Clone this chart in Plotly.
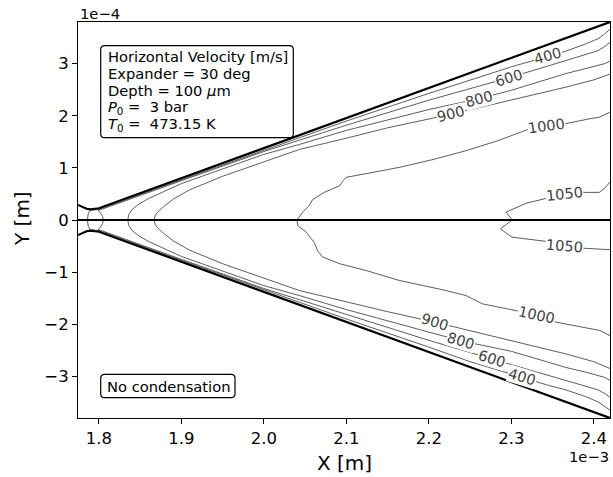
import plotly.graph_objects as go

# Units: x in 1e-3 m, y in 1e-4 m
X_RANGE = [1.7746, 2.4195]
Y_RANGE = [-3.8, 3.8]
X_TICKS = [1.8, 1.9, 2.0, 2.1, 2.2, 2.3, 2.4]
Y_TICKS = [-3, -2, -1, 0, 1, 2, 3]

# Expander wall (throat rounding, then straight 30 deg wall) and symmetry axis
WALL_X = [1.7746, 1.780, 1.785, 1.790, 1.795, 1.800, 2.4195]
WALL_UP_Y = [0.29, 0.245, 0.215, 0.205, 0.208, 0.225, 3.80]
WALL_LO_Y = [-0.29, -0.245, -0.215, -0.205, -0.208, -0.225, -3.80]
AXIS_X = [1.7746, 2.4195]
AXIS_Y = [0.0, 0.0]

# Horizontal velocity iso-lines [m/s]
C400_UP_X = [1.786, 1.787, 1.789, 1.800, 1.850, 1.900, 2.000, 2.043, 2.100, 2.200, 2.250, 2.300, 2.344, 2.366, 2.390, 2.405, 2.413, 2.4195]
C400_UP_Y = [0.00, 0.12, 0.185, 0.205, 0.490, 0.775, 1.345, 1.590, 1.900, 2.430, 2.690, 2.940, 3.140, 3.240, 3.380, 3.480, 3.570, 3.660]
C400_LO_X = [1.786, 1.787, 1.789, 1.800, 1.850, 1.900, 2.000, 2.043, 2.100, 2.200, 2.250, 2.313, 2.344, 2.366, 2.390, 2.405, 2.413, 2.4195]
C400_LO_Y = [0.00, -0.12, -0.185, -0.205, -0.490, -0.775, -1.345, -1.590, -1.900, -2.440, -2.720, -3.020, -3.170, -3.260, -3.390, -3.490, -3.570, -3.650]

C600_UP_X = [1.805, 1.8045, 1.802, 1.7995, 1.799, 1.802, 1.850, 1.900, 2.000, 2.043, 2.100, 2.200, 2.297, 2.366, 2.390, 2.405, 2.413, 2.4195]
C600_UP_Y = [0.00, 0.07, 0.13, 0.17, 0.19, 0.198, 0.475, 0.755, 1.315, 1.530, 1.820, 2.300, 2.730, 3.060, 3.170, 3.250, 3.330, 3.410]
C600_LO_X = [1.805, 1.8045, 1.802, 1.7995, 1.799, 1.802, 1.850, 1.900, 2.000, 2.043, 2.100, 2.200, 2.277, 2.366, 2.390, 2.405, 2.413, 2.4195]
C600_LO_Y = [0.00, -0.07, -0.13, -0.17, -0.19, -0.198, -0.475, -0.755, -1.315, -1.530, -1.820, -2.310, -2.670, -3.080, -3.180, -3.260, -3.330, -3.400]

C800_UP_X = [1.835, 1.836, 1.840, 1.849, 1.860, 1.900, 2.000, 2.043, 2.100, 2.200, 2.261, 2.300, 2.366, 2.390, 2.405, 2.413, 2.4195]
C800_UP_Y = [0.00, 0.10, 0.20, 0.31, 0.41, 0.70, 1.26, 1.45, 1.72, 2.12, 2.33, 2.49, 2.81, 2.90, 2.96, 3.00, 3.05]
C800_LO_X = [1.835, 1.836, 1.840, 1.849, 1.860, 1.900, 2.000, 2.043, 2.100, 2.200, 2.239, 2.300, 2.366, 2.390, 2.405, 2.413, 2.4195]
C800_LO_Y = [0.00, -0.10, -0.20, -0.31, -0.41, -0.70, -1.26, -1.45, -1.72, -2.15, -2.32, -2.52, -2.83, -2.92, -2.98, -3.02, -3.08]

C900_UP_X = [1.867, 1.868, 1.871, 1.878, 1.890, 1.910, 1.950, 2.000, 2.043, 2.100, 2.150, 2.227, 2.300, 2.366, 2.400, 2.4195]
C900_UP_Y = [0.00, 0.08, 0.15, 0.25, 0.40, 0.58, 0.84, 1.12, 1.354, 1.57, 1.77, 2.03, 2.30, 2.55, 2.69, 2.80]
C900_LO_X = [1.867, 1.868, 1.871, 1.878, 1.890, 1.910, 1.950, 2.000, 2.043, 2.100, 2.150, 2.207, 2.300, 2.366, 2.400, 2.4195]
C900_LO_Y = [0.00, -0.08, -0.15, -0.25, -0.40, -0.58, -0.84, -1.12, -1.354, -1.57, -1.76, -1.96, -2.31, -2.57, -2.72, -2.85]

C1000_UP_X = [2.040, 2.047, 2.055, 2.059, 2.073, 2.092, 2.096, 2.100, 2.124, 2.164, 2.205, 2.245, 2.285, 2.322, 2.343, 2.366, 2.394, 2.406, 2.4195]
C1000_UP_Y = [0.00, 0.15, 0.28, 0.39, 0.53, 0.66, 0.76, 0.82, 0.89, 1.01, 1.16, 1.33, 1.53, 1.75, 1.80, 1.85, 1.94, 1.97, 2.07]
C1000_LO_X = [2.040, 2.041, 2.051, 2.061, 2.065, 2.071, 2.092, 2.124, 2.164, 2.217, 2.245, 2.265, 2.306, 2.330, 2.354, 2.407, 2.4195]
C1000_LO_Y = [0.00, -0.11, -0.23, -0.43, -0.59, -0.71, -0.84, -0.97, -1.16, -1.34, -1.45, -1.61, -1.74, -1.83, -1.96, -2.12, -2.22]

C1050_UP_X = [2.301, 2.2934, 2.3176, 2.3418, 2.364, 2.386, 2.4064, 2.4137, 2.4195]
C1050_UP_Y = [0.00, 0.15, 0.32, 0.41, 0.50, 0.53, 0.53, 0.62, 0.73]
C1050_LO_X = [2.301, 2.2866, 2.3007, 2.342, 2.364, 2.386, 2.4195]
C1050_LO_Y = [0.00, -0.17, -0.33, -0.41, -0.49, -0.54, -0.57]

# Inline level labels: (level, x, y, angle)
LABELS = [
    (400, 2.344, 3.14, -16), (600, 2.297, 2.73, -16), (800, 2.261, 2.33, -15),
    (900, 2.227, 2.03, -14), (1000, 2.343, 1.80, -8), (1050, 2.364, 0.50, -6),
    (1050, 2.364, -0.49, 5), (1000, 2.330, -1.83, 12), (900, 2.207, -1.96, 17),
    (800, 2.239, -2.32, 17), (600, 2.277, -2.67, 17), (400, 2.313, -3.02, 17),
]

INFO_LINES = [
    "Horizontal Velocity [m/s]",
    "Expander = 30 deg",
    "Depth = 100 <i>μ</i>m",
    "<i>P</i><sub>0</sub> =  3 bar",
    "<i>T</i><sub>0</sub> =  473.15 K",
]
NOTE = "No condensation"

FONT = "DejaVu Sans"
W, H = 613, 477
ML, MR, MT, MB = 78, 3, 22, 59
PW, PH = W - ML - MR, H - MT - MB


def px(xp):
    return (xp - ML) / PW


def py(yp):
    return 1 - (yp - MT) / PH


fig = go.Figure()

contours = [
    (C400_UP_X, C400_UP_Y), (C400_LO_X, C400_LO_Y),
    (C600_UP_X, C600_UP_Y), (C600_LO_X, C600_LO_Y),
    (C800_UP_X, C800_UP_Y), (C800_LO_X, C800_LO_Y),
    (C900_UP_X, C900_UP_Y), (C900_LO_X, C900_LO_Y),
    (C1000_UP_X, C1000_UP_Y), (C1000_LO_X, C1000_LO_Y),
    (C1050_UP_X, C1050_UP_Y), (C1050_LO_X, C1050_LO_Y),
]
for cx, cy in contours:
    fig.add_trace(go.Scatter(x=cx, y=cy, mode="lines",
                             line=dict(color="#4a4a4a", width=0.9),
                             hoverinfo="skip", showlegend=False))

for wy in (WALL_UP_Y, WALL_LO_Y):
    fig.add_trace(go.Scatter(x=WALL_X, y=wy, mode="lines",
                             line=dict(color="black", width=2.2),
                             hoverinfo="skip", showlegend=False))
fig.add_trace(go.Scatter(x=AXIS_X, y=AXIS_Y, mode="lines",
                         line=dict(color="black", width=2.2),
                         hoverinfo="skip", showlegend=False))

annotations = []
for lev, lx, ly, ang in LABELS:
    annotations.append(dict(x=lx, y=ly, xref="x", yref="y", text=str(lev),
                            showarrow=False, textangle=ang, bgcolor="white",
                            borderpad=0, font=dict(family=FONT, size=14.5, color="#404040")))

# information box
box_l, box_r, box_t, box_b = 100.7, 293.3, 45.7, 137.7
line_y = [56.5, 73.5, 90.5, 107.5, 124.5]
for txt, yy in zip(INFO_LINES, line_y):
    annotations.append(dict(x=px(105.5), y=py(yy), xref="paper", yref="paper",
                            xanchor="left", yanchor="middle", text=txt, showarrow=False,
                            font=dict(family=FONT, size=14.7, color="black")))

annotations.append(dict(x=px(168), y=py(386), xref="paper", yref="paper",
                        xanchor="center", yanchor="middle", text=NOTE, showarrow=False,
                        font=dict(family=FONT, size=14.7, color="black")))

# offset multipliers and axis titles
annotations.append(dict(x=px(78), y=py(13), xref="paper", yref="paper", xanchor="left",
                        yanchor="middle", text="1e−4", showarrow=False,
                        font=dict(family=FONT, size=14.7, color="black")))
annotations.append(dict(x=px(611), y=py(457), xref="paper", yref="paper", xanchor="right",
                        yanchor="middle", text="1e−3", showarrow=False,
                        font=dict(family=FONT, size=14.7, color="black")))
annotations.append(dict(x=px(344), y=py(463), xref="paper", yref="paper", xanchor="center",
                        yanchor="middle", text="X [m]", showarrow=False,
                        font=dict(family=FONT, size=20, color="black")))
annotations.append(dict(x=px(22), y=py(219), xref="paper", yref="paper", xanchor="center",
                        yanchor="middle", text="Y [m]", showarrow=False, textangle=-90,
                        font=dict(family=FONT, size=20, color="black")))


def rounded_box(l, r, t, b, rad=4):
    # path in pixels relative to the plot's top-left corner (y positive upward)
    L, R = l - ML, r - ML
    T, B = -(t - MT), -(b - MT)
    return (f"M{L+rad},{T} L{R-rad},{T} Q{R},{T} {R},{T-rad} L{R},{B+rad} "
            f"Q{R},{B} {R-rad},{B} L{L+rad},{B} Q{L},{B} {L},{B+rad} "
            f"L{L},{T-rad} Q{L},{T} {L+rad},{T} Z")


shapes = []
for (l, r, t, b) in [(box_l, box_r, box_t, box_b), (100.7, 235.0, 374.3, 397.7)]:
    shapes.append(dict(type="path", xref="paper", yref="paper", xsizemode="pixel",
                       ysizemode="pixel", xanchor=0, yanchor=1,
                       path=rounded_box(l, r, t, b), fillcolor="white",
                       line=dict(color="black", width=1.2), layer="above"))

axis_common = dict(showgrid=False, zeroline=False, showline=True, linecolor="black",
                   linewidth=1.1, mirror=True, ticks="outside", ticklen=5, tickwidth=1.1,
                   tickcolor="black", tickfont=dict(family=FONT, size=16.5, color="black"))

fig.update_layout(
    width=W, height=H,
    margin=dict(l=ML, r=MR, t=MT, b=MB),
    paper_bgcolor="white", plot_bgcolor="white",
    xaxis=dict(range=X_RANGE, tickvals=X_TICKS, tickformat=".1f", **axis_common),
    yaxis=dict(range=Y_RANGE, tickvals=Y_TICKS, **axis_common),
    annotations=annotations, shapes=shapes,
    showlegend=False,
)

fig.write_html("out.html")
